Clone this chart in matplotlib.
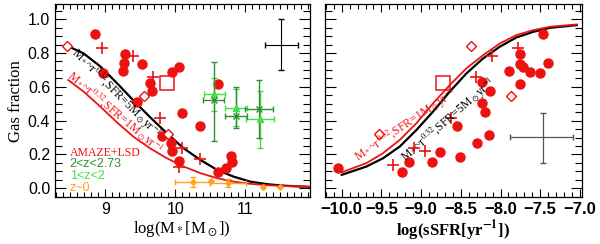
import matplotlib
matplotlib.use('Agg')
import matplotlib.pyplot as plt
from matplotlib.ticker import MultipleLocator
import numpy as np

plt.rcParams['font.family'] = ['Liberation Serif', 'DejaVu Serif']
plt.rcParams['mathtext.fontset'] = 'stix'

RED = '#ee1111'
DKGREEN = '#2f8f2f'
LTGREEN = '#44dd44'
ORANGE = '#ffa31a'

# ---- left panel: gas fraction vs stellar mass ----
mass_circ = [8.85, 9.28, 9.27, 9.25, 9.52, 8.96, 9.64, 9.66, 9.96, 10.06, 9.45,
             10.10, 10.36, 9.94, 9.95, 10.05, 10.61, 10.61, 10.72, 10.79, 10.81, 9.81]
fgas_circ_m = [0.915, 0.793, 0.738, 0.693, 0.732, 0.683, 0.624, 0.575, 0.689, 0.718, 0.508,
               0.447, 0.368, 0.270, 0.222, 0.158, 0.616, 0.098, 0.122, 0.193, 0.157, 0.309]
mass_plus = [8.95, 9.40, 9.68, 9.78, 10.10, 10.35, 10.06]
fgas_plus_m = [0.827, 0.781, 0.659, 0.413, 0.236, 0.171, 0.128]
mass_diam = [8.45, 9.55, 9.90]
fgas_diam_m = [0.840, 0.545, 0.321]
mass_sq, fgas_sq_m = [9.88], [0.620]

# 2<z<2.73
mass_hz = [10.55, 10.87, 11.20]
mass_hz_err = [0.15, 0.16, 0.20]
fgas_hz = [0.520, 0.427, 0.467]
fgas_hz_lo = [0.24, 0.073, 0.17]
fgas_hz_hi = [0.224, 0.17, 0.173]
# 1<z<2
mass_mz = [10.56, 10.87, 11.21]
mass_mz_err = [0.15, 0.16, 0.20]
fgas_mz = [0.555, 0.476, 0.407]
fgas_mz_err = [0.10, 0.11, 0.17]
# z~0
mass_lz = [10.25, 10.51, 10.75, 11.26, 11.50]
mass_lz_err = [0.25, 0.0, 0.26, 0.0, 0.0]
fgas_lz = [0.039, 0.040, 0.030, 0.010, 0.006]
fgas_lz_err = [0.03, 0.0, 0.025, 0.0, 0.0]

# model curves
mod_mass = [8.47, 8.69, 8.93, 9.17, 9.40, 9.64, 9.88, 10.12, 10.36, 10.60, 10.83, 11.07, 11.31, 11.55, 11.79, 11.92]
mod_m_sfr5 = [0.840, 0.797, 0.720, 0.620, 0.520, 0.420, 0.325, 0.236, 0.167, 0.108, 0.069, 0.039, 0.024, 0.015, 0.010, 0.008]
mod_m_sfr1 = [0.640, 0.571, 0.482, 0.388, 0.305, 0.236, 0.177, 0.128, 0.089, 0.059, 0.039, 0.026, 0.018, 0.013, 0.010, 0.008]

# ---- right panel: gas fraction vs sSFR ----
ssfr_circ = [-10.05, -9.24, -9.15, -8.86, -8.76, -8.51, -8.55, -8.29, -8.15, -8.23, -8.13,
             -8.23, -8.19, -7.89, -7.76, -7.76, -7.72, -7.63, -7.50, -7.40, -7.76, -7.47]
fgas_circ_s = [0.118, 0.098, 0.157, 0.157, 0.217, 0.187, 0.368, 0.266, 0.317, 0.630, 0.577,
               0.502, 0.449, 0.693, 0.797, 0.732, 0.718, 0.685, 0.683, 0.738, 0.614, 0.915]
ssfr_plus = [-7.78, -8.11, -8.31, -8.62, -9.09, -8.95, -9.36]
fgas_plus_s = [0.827, 0.781, 0.659, 0.413, 0.236, 0.222, 0.138]
ssfr_diam = [-8.37, -7.87, -9.53]
fgas_diam_s = [0.840, 0.545, 0.321]
ssfr_sq, fgas_sq_s = [-8.73], [0.620]

mod_ssfr = [-10.0, -9.69, -9.48, -9.27, -9.06, -8.85, -8.64, -8.43, -8.22, -8.01, -7.80, -7.59, -7.38, -7.04]
mod_s_sfr1 = [0.094, 0.148, 0.207, 0.285, 0.384, 0.502, 0.610, 0.709, 0.787, 0.856, 0.906, 0.935, 0.955, 0.969]
mod_s_sfr5 = [0.079, 0.128, 0.177, 0.246, 0.344, 0.453, 0.571, 0.679, 0.768, 0.837, 0.892, 0.925, 0.949, 0.965]

lab5 = r'M$_*$~r$^{0.32}$,SFR=5M$_\odot$yr$^{-1}$'
lab1 = r'M$_*$~r$^{0.32}$,SFR=1M$_\odot$yr$^{-1}$'
tickfont = 'Liberation Sans'

legend_labels = ['AMAZE+LSD', '2<z<2.73', '1<z<2', 'z~0']
legend_colors = [RED, DKGREEN, LTGREEN, ORANGE]
legend_y = [0.208, 0.144, 0.073, 0.004]

fig = plt.figure(figsize=(6.0, 2.44), dpi=100)
ax1 = fig.add_axes([0.0917, 0.1906, 0.4242, 0.7930])
ax2 = fig.add_axes([0.5417, 0.1906, 0.4275, 0.7930])


def style(ax):
    ax.set_ylim(-0.055, 1.09)
    ax.yaxis.set_major_locator(MultipleLocator(0.2))
    ax.yaxis.set_minor_locator(MultipleLocator(0.05))
    ax.tick_params(which='both', direction='in', top=True, right=True, width=0.8)
    ax.tick_params(axis='y', which='major', length=8)
    ax.tick_params(axis='y', which='minor', length=5)
    ax.tick_params(axis='x', which='major', length=6)
    ax.tick_params(axis='x', which='minor', length=3.5)
    for s in ax.spines.values():
        s.set_linewidth(0.9)


def red_points(ax, xc, yc, xp, yp, xd, yd, xs, ys):
    ax.plot(xc, yc, 'o', color=RED, ms=6.5, mec=RED, zorder=4)
    ax.plot(xp, yp, '+', color=RED, ms=8, mew=1.2, zorder=4)
    ax.plot(xd, yd, 'D', mfc='white', mec=RED, ms=5, mew=1.0, zorder=4)
    ax.plot(xs, ys, 's', mfc='none', mec=RED, ms=10, mew=1.1, zorder=4)


# left
style(ax1)
ax1.set_xlim(8.28, 11.92)
ax1.xaxis.set_major_locator(MultipleLocator(1))
ax1.xaxis.set_minor_locator(MultipleLocator(0.1))
ax1.plot(mod_mass, mod_m_sfr5, color='black', lw=1.6, zorder=3)
ax1.plot(mod_mass, mod_m_sfr1, color=RED, lw=1.3, zorder=3)
red_points(ax1, mass_circ, fgas_circ_m, mass_plus, fgas_plus_m,
           mass_diam, fgas_diam_m, mass_sq, fgas_sq_m)
ax1.errorbar(mass_mz, fgas_mz, xerr=mass_mz_err, yerr=fgas_mz_err, fmt='^',
             color=LTGREEN, ms=4, capsize=2.5, lw=1.0, zorder=5)
ax1.errorbar(mass_hz, fgas_hz, xerr=mass_hz_err, yerr=[fgas_hz_lo, fgas_hz_hi], fmt='x',
             color=DKGREEN, ms=5, capsize=2.5, lw=1.0, zorder=5)
ax1.errorbar(mass_lz, fgas_lz, xerr=mass_lz_err, yerr=fgas_lz_err, fmt='o',
             color=ORANGE, ms=3, capsize=2.5, lw=1.0, zorder=5)
ax1.errorbar([11.51], [0.85], xerr=[[0.23], [0.24]], yerr=[[0.15], [0.15]],
             fmt='none', color='black', lw=0.8, capsize=2.5)
ax1.text(9.15, 0.56, lab5, color='black', fontsize=8.5, rotation=-45,
         ha='center', va='center', rotation_mode='anchor', zorder=6)
ax1.text(9.13, 0.445, lab1, color=RED, fontsize=8.5, rotation=-40,
         ha='center', va='center', rotation_mode='anchor', zorder=6)
for i, (lab, col, yy) in enumerate(zip(legend_labels, legend_colors, legend_y)):
    if i == 0:
        ax1.text(8.49, yy, lab, color=col, fontsize=8.5, va='center')
    else:
        ax1.text(8.49, yy, lab, color=col, fontsize=9, va='center',
                 fontfamily=['Liberation Sans'])
ax1.set_ylabel('Gas fraction', fontsize=12, labelpad=3)
ax1.set_xlabel(r'log(M$_*$[M$_\odot$])', fontsize=12, labelpad=1)
ax1.tick_params(labelsize=11.5)
for lab in ax1.get_xticklabels() + ax1.get_yticklabels():
    lab.set_fontfamily(tickfont)

# right
style(ax2)
ax2.set_xlim(-10.21, -6.98)
ax2.xaxis.set_major_locator(MultipleLocator(0.5))
ax2.xaxis.set_minor_locator(MultipleLocator(0.1))
ax2.plot(mod_ssfr, mod_s_sfr5, color='black', lw=1.6, zorder=3)
ax2.plot(mod_ssfr, mod_s_sfr1, color=RED, lw=1.3, zorder=3)
red_points(ax2, ssfr_circ, fgas_circ_s, ssfr_plus, fgas_plus_s,
           ssfr_diam, fgas_diam_s, ssfr_sq, fgas_sq_s)
ax2.errorbar([-7.47], [0.305], xerr=[[0.41], [0.38]], yerr=[[0.153], [0.142]],
             fmt='none', color='#555555', lw=0.9, capsize=2.5)
ax2.text(-9.19, 0.37, lab1, color=RED, fontsize=8.5, rotation=34,
         ha='center', va='center', rotation_mode='anchor', zorder=6)
ax2.text(-8.66, 0.40, lab5, color='black', fontsize=8.5, rotation=41,
         ha='center', va='center', rotation_mode='anchor', zorder=6)
ax2.set_yticklabels([])
ax2.set_xticks([-10.0, -9.5, -9.0, -8.5, -8.0, -7.5, -7.0])
ax2.set_xticklabels(['\u221210.0', '\u22129.5', '\u22129.0', '\u22128.5',
                     '\u22128.0', '\u22127.5', '\u22127.0'], fontweight='bold',
                    fontsize=12, fontfamily=tickfont)
ax2.set_xlabel(r'log(sSFR[yr$^{\mathbf{-1}}$])', fontsize=12, fontweight='bold', labelpad=1)

fig.savefig('out.png', dpi=100)
